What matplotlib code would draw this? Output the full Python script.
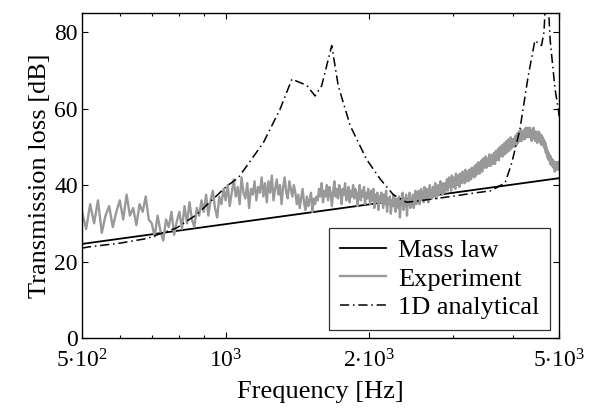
import numpy as np
import matplotlib
matplotlib.use('Agg')
import matplotlib.pyplot as plt
from matplotlib.ticker import FixedLocator, NullFormatter

plt.rcParams['font.family'] = ['Liberation Serif', 'DejaVu Serif']
plt.rcParams['mathtext.fontset'] = 'custom'
plt.rcParams['mathtext.rm'] = 'Liberation Serif'
plt.rcParams['mathtext.it'] = 'Liberation Serif:italic'

# mass law line (end points)
mass_freq = [500, 5000]
mass_db = [24.6, 41.8]

# 1D analytical model
ana_freq = [500, 515, 600, 683, 790, 870, 1005, 1063, 1200, 1300, 1377, 1420,
            1479, 1540, 1590, 1669, 1722, 1825, 1975, 2111, 2246, 2395, 2515,
            2700, 3000, 3360, 3600, 3855, 3980, 4140, 4310, 4450, 4595, 4650,
            4714, 4790, 4905, 4985, 5000]
ana_db = [23.5, 23.8, 24.8, 26.0, 28.8, 32.3, 39.7, 41.9, 51.1, 59.8, 67.7, 67.0,
          66.1, 63.3, 66.0, 76.5, 66.0, 55.5, 46.7, 41.5, 37.5, 35.5, 35.8,
          36.3, 37.1, 38.0, 38.5, 40.6, 45.8, 54.6, 68.6, 77.8, 76.5, 80.0,
          95.0, 78.0, 65.0, 59.8, 58.0]

# measured curve, 500..5000 Hz in 10 Hz steps
exp_db = [
    # 500-600
    33, 28.5, 35, 30, 36, 27.5, 32, 34.5, 29, 33,
    # 600-700
    36, 31, 37.5, 32, 34, 29.5, 35, 33, 37, 31,
    # 700-800
    30, 26.5, 32, 28, 25.5, 31, 29, 33, 27, 30.5,
    # 800-900
    33, 28.5, 34.5, 30, 35.5, 31, 29, 34, 32, 36,
    # 900-1000
    33, 37.5, 32, 36, 38.5, 34, 31.5, 37, 35, 39,
    # 1000-1200
    36, 40, 34.5, 38, 41.5, 37, 39.5, 35, 42, 38,
    36.5, 40.5, 34, 39, 37.5, 41, 36, 39.5, 38, 42,
    # 1200-1400
    37, 40.5, 35.5, 41, 38, 42.5, 36, 39, 41.5, 37.5,
    40, 35, 39.5, 42, 38, 36.5, 41, 39, 37, 40,
    # 1400-1560
    38, 35, 37.5, 34, 36.5, 39, 35.5, 33.5, 37, 34.5,
    36, 38, 33, 36.5, 35, 37,
    # 1560-2000
    36, 39, 37, 40.5, 35.5, 38.5, 37, 40, 36, 39.5,
    38, 34.5, 38, 41, 37, 39, 36.5, 40, 38.5, 35,
    39, 37.5, 40.5, 36, 38, 39.5, 35.5, 38.5, 37, 40,
    36.5, 39, 38, 34.5, 37.5, 40, 36, 38.5, 37, 39.5,
    35, 38, 36.5, 39,
    # 2000-2300
    37, 35, 38.5, 36, 39, 34, 37.5, 36, 38, 33.5,
    37, 35.5, 38, 36, 34, 37.5, 35, 38.5, 33, 36.5,
    35, 37, 32.5, 36, 34.5, 37.5, 35, 33, 36.5, 35,
    # 2300-2530
    34, 37, 31.5, 36, 35, 38, 33.5, 36.5, 34.5, 37.5,
    32, 36, 35, 38, 34, 36.5, 35, 37.5, 34, 36,
    38.5, 35, 37,
    # 2530-2900
    36, 38.5, 35, 37.5, 39, 36, 38, 35.5, 39.5, 37,
    36.5, 39, 37.5, 35.5, 38.5, 40, 37, 38.5, 36.5, 39.5,
    38, 37, 40.5, 38, 36.5, 39, 40, 37.5, 39, 41,
    38, 39.5, 37.5, 40.5, 39, 38, 40.5,
    # 2900-3300
    39, 41.5, 38.5, 40, 42, 39.5, 41, 38.5, 42.5, 40,
    39.5, 42, 40.5, 39, 43, 41, 40, 42.5, 41.5, 39.5,
    43, 41, 42.5, 40.5, 43.5, 41.5, 42, 40.5, 44, 42,
    41, 43.5, 42.5, 41, 44, 42.5, 43.5, 41.5, 44.5, 42.5,
    # 3300-3650
    43, 44.5, 42, 45, 43.5, 42.5, 45.5, 44, 43, 46,
    44.5, 43, 45.5, 44, 46.5, 43.5, 45, 47, 44.5, 46,
    45, 47.5, 44.5, 46.5, 45.5, 47, 45, 48, 46, 45,
    47.5, 46, 48, 45.5, 47,
    # 3650-4030
    46.5, 48.5, 45.5, 47.5, 49, 46.5, 48, 47, 49.5, 46.5,
    48.5, 50, 47.5, 49, 48, 50.5, 47.5, 49.5, 48.5, 51,
    48, 50, 49, 51.5, 48.5, 50.5, 49.5, 52, 49, 51,
    50, 52.5, 49.5, 51.5, 50, 52, 50.5, 51.5,
    # 4030-4330
    50, 52.5, 51, 53, 50.5, 52, 53.5, 51, 52.5, 54,
    51.5, 53, 52, 54.5, 51.5, 53.5, 52.5, 54, 52, 53.5,
    54.5, 52, 53.5, 55, 52.5, 54, 53, 55, 52.5, 54,
    # 4330-4630
    53, 55, 52.5, 54, 53.5, 51.5, 54.5, 52.5, 53.5, 55,
    52, 54, 53, 51.5, 54, 52.5, 53.5, 51, 53, 52,
    54, 51.5, 52.5, 53.5, 51, 52.5, 50.5, 53, 51.5, 52.5,
    # 4630-4860
    50.5, 52, 50, 51.5, 49.5, 51, 48.5, 50, 49, 47.5,
    49, 47, 48.5, 46.5, 48, 47, 45.5, 47.5, 46, 47,
    45, 46.5, 45.5,
    # 4860-5000
    46.5, 44.5, 46, 45, 43.5, 46, 44.5, 45.5, 44, 46,
    44.5, 45.5, 44, 45, 46,
]
exp_freq = np.linspace(500, 5000, len(exp_db))

xticks = [500, 1000, 2000, 5000]
xticklabels = [r'$5{\cdot}10^2$', r'$10^3$', r'$2{\cdot}10^3$', r'$5{\cdot}10^3$']

fig = plt.figure(figsize=(5.91, 4.08), dpi=100)
ax = fig.add_axes([0.1388, 0.1716, 0.8071, 0.7965])

ax.plot(mass_freq, mass_db, color='black', lw=1.3, label='Mass law')
ax.plot(exp_freq, exp_db, color='#999999', lw=1.7, label='Experiment')
ax.plot(ana_freq, ana_db, color='black', lw=1.1, dashes=(6, 2.5, 1, 2.5),
        label='1D analytical')

ax.set_xscale('log')
ax.set_xlim(500, 5000)
ax.set_ylim(0, 85)
ax.xaxis.set_major_locator(FixedLocator(xticks))
ax.set_xticklabels(xticklabels)
ax.xaxis.set_minor_locator(FixedLocator([600, 700, 800, 900, 3000, 4000]))
ax.xaxis.set_minor_formatter(NullFormatter())
ax.set_yticks([0, 20, 40, 60, 80])

ax.tick_params(which='both', direction='in', top=True, right=True,
               labelsize=17, width=0.8)
ax.tick_params(which='major', length=4)
ax.tick_params(axis='x', which='major', pad=8)
ax.tick_params(axis='y', which='major', pad=3)
ax.tick_params(which='minor', length=2.5)
for s in ax.spines.values():
    s.set_linewidth(1.0)

ax.set_xlabel('Frequency [Hz]', fontsize=19, labelpad=6)
ax.set_ylabel('Transmission loss [dB]', fontsize=19, labelpad=2)

leg = ax.legend(loc='lower right', bbox_to_anchor=(0.981, 0.025), fontsize=19,
                frameon=True, fancybox=False, edgecolor='black',
                handlelength=1.75, handletextpad=0.45, borderpad=0.4,
                labelspacing=0.2, borderaxespad=0.0)
leg.get_frame().set_linewidth(0.9)

fig.savefig('out.png', dpi=100)
